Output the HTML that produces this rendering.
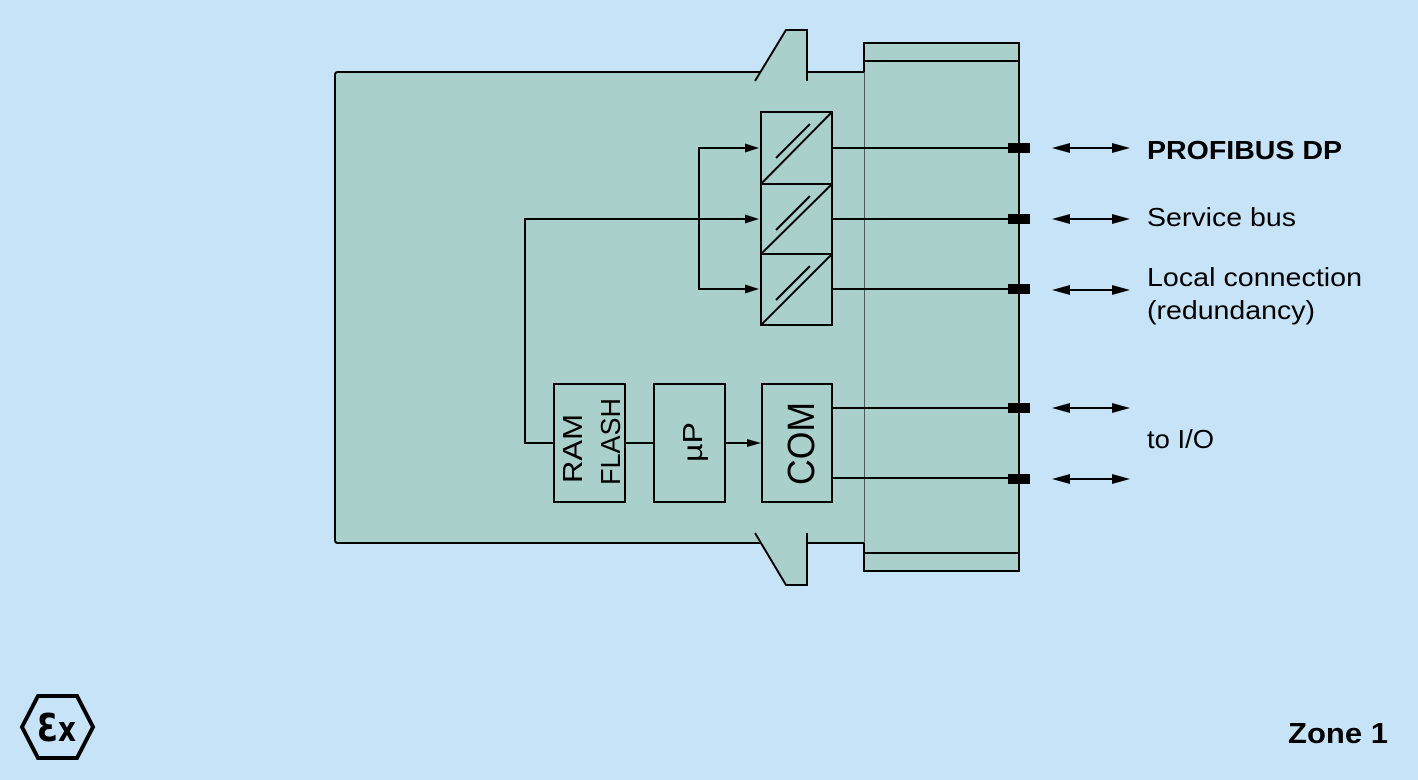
<!DOCTYPE html>
<html>
<head>
<meta charset="utf-8">
<style>
  html,body{margin:0;padding:0;}
  body{width:1418px;height:780px;background:#c6e3f7;overflow:hidden;}
  svg{display:block;}
  text{font-family:"Liberation Sans",Arial,sans-serif;fill:#000;}
</style>
</head>
<body>
<svg width="1418" height="780" viewBox="0 0 1418 780" xmlns="http://www.w3.org/2000/svg">
  <rect x="0" y="0" width="1418" height="780" fill="#c6e3f7"/>

  <!-- fills -->
  <g fill="#a9d0cb" stroke="none">
    <rect x="335" y="72" width="530" height="471" rx="3"/>
    <polygon points="760,72 786,30 807,30 807,72"/>
    <polygon points="761,543 786,585 807,585 807,543"/>
    <rect x="864" y="43" width="155" height="528"/>
  </g>

  <!-- outline -->
  <g fill="none" stroke="#000" stroke-width="2" stroke-linejoin="miter">
    <path d="M760,72 L338,72 Q335,72 335,75 L335,540 Q335,543 338,543 L761,543"/>
    <path d="M807,72 L864,72"/>
    <path d="M807,543 L864,543"/>
    <path d="M755,81 L786,30 L807,30 L807,81"/>
    <path d="M755,533 L786,585 L807,585 L807,533"/>
    <path d="M864,72 L864,43 L1019,43 L1019,571 L864,571 L864,543"/>
    <line x1="864" y1="61" x2="1019" y2="61"/>
    <line x1="864" y1="553" x2="1019" y2="553"/>
  </g>
  <line x1="864.5" y1="72" x2="864.5" y2="543" stroke="#4a5a58" stroke-width="1"/>

  <!-- converter boxes -->
  <g fill="none" stroke="#000" stroke-width="2">
    <rect x="761" y="112" width="71" height="213"/>
    <line x1="761" y1="184" x2="832" y2="184"/>
    <line x1="761" y1="254" x2="832" y2="254"/>
    <line x1="761" y1="184" x2="832" y2="112"/>
    <line x1="761" y1="254" x2="832" y2="184"/>
    <line x1="761" y1="325" x2="832" y2="254"/>
    <line x1="776" y1="158" x2="810" y2="124"/>
    <line x1="776" y1="230" x2="810" y2="196"/>
    <line x1="776" y1="300" x2="810" y2="266"/>
  </g>

  <!-- lower boxes -->
  <g fill="none" stroke="#000" stroke-width="2">
    <rect x="554" y="384" width="71" height="118"/>
    <rect x="654" y="384" width="71" height="118"/>
    <rect x="762" y="384" width="70" height="118"/>
  </g>

  <!-- internal connections -->
  <g fill="none" stroke="#000" stroke-width="2">
    <line x1="832" y1="148" x2="1019" y2="148"/>
    <line x1="832" y1="219" x2="1019" y2="219"/>
    <line x1="832" y1="289" x2="1019" y2="289"/>
    <line x1="832" y1="408" x2="1019" y2="408"/>
    <line x1="832" y1="478" x2="1019" y2="478"/>
    <path d="M748,148 L699,148 L699,289 L748,289"/>
    <path d="M748,219 L525,219 L525,443 L554,443"/>
    <line x1="625" y1="443" x2="654" y2="443"/>
    <line x1="725" y1="443" x2="750" y2="443"/>
  </g>
  <g fill="#000">
    <polygon points="759,148 745,143.5 745,152.5"/>
    <polygon points="759,219 745,214.5 745,223.5"/>
    <polygon points="759,289 745,284.5 745,293.5"/>
    <polygon points="761,443 747,439 747,447"/>
    <!-- port blocks -->
    <rect x="1008" y="143" width="22" height="10"/>
    <rect x="1008" y="214" width="22" height="10"/>
    <rect x="1008" y="284" width="22" height="10"/>
    <rect x="1008" y="403" width="22" height="10"/>
    <rect x="1008" y="474" width="22" height="10"/>
  </g>

  <!-- external double arrows -->
  <g stroke="#000" stroke-width="2">
    <line x1="1060" y1="148" x2="1122" y2="148"/>
    <line x1="1060" y1="219" x2="1122" y2="219"/>
    <line x1="1060" y1="290" x2="1122" y2="290"/>
    <line x1="1060" y1="408" x2="1122" y2="408"/>
    <line x1="1060" y1="479" x2="1122" y2="479"/>
  </g>
  <g fill="#000">
    <polygon points="1052,148 1070,143 1070,153"/><polygon points="1130,148 1112,143 1112,153"/>
    <polygon points="1052,219 1070,214 1070,224"/><polygon points="1130,219 1112,214 1112,224"/>
    <polygon points="1052,290 1070,285 1070,295"/><polygon points="1130,290 1112,285 1112,295"/>
    <polygon points="1052,408 1070,403 1070,413"/><polygon points="1130,408 1112,403 1112,413"/>
    <polygon points="1052,479 1070,474 1070,484"/><polygon points="1130,479 1112,474 1112,484"/>
  </g>

  <!-- rotated labels -->
  <text transform="translate(582,483) rotate(-90)" font-size="28" textLength="69" lengthAdjust="spacingAndGlyphs">RAM</text>
  <text transform="translate(620,485) rotate(-90)" font-size="28" textLength="87" lengthAdjust="spacingAndGlyphs">FLASH</text>
  <text transform="translate(702,462) rotate(-90)" font-size="28" textLength="40" lengthAdjust="spacingAndGlyphs">µP</text>
  <text transform="translate(814,485) rotate(-90)" font-size="38" textLength="83" lengthAdjust="spacingAndGlyphs">COM</text>

  <!-- right labels -->
  <text x="1147" y="159" font-size="26" font-weight="bold" textLength="195" lengthAdjust="spacingAndGlyphs">PROFIBUS DP</text>
  <text x="1147" y="226" font-size="26" textLength="149" lengthAdjust="spacingAndGlyphs">Service bus</text>
  <text x="1147" y="286" font-size="26" textLength="215" lengthAdjust="spacingAndGlyphs">Local connection</text>
  <text x="1147" y="319" font-size="26" textLength="168" lengthAdjust="spacingAndGlyphs">(redundancy)</text>
  <text x="1147" y="448" font-size="26" textLength="67" lengthAdjust="spacingAndGlyphs">to I/O</text>

  <!-- Zone 1 -->
  <text x="1288" y="743" font-size="29" font-weight="bold" textLength="100" lengthAdjust="spacingAndGlyphs">Zone 1</text>

  <!-- Ex logo -->
  <polygon points="22,727 38,696 77,696 93,727 77,758 38,758" fill="none" stroke="#000" stroke-width="4" stroke-linejoin="miter"/>
  <text x="37" y="741" font-size="38" font-weight="bold" textLength="21" lengthAdjust="spacingAndGlyphs" style="font-family:'DejaVu Sans',sans-serif">Ɛ</text>
  <text x="58" y="741" font-size="35" font-weight="bold" textLength="18" lengthAdjust="spacingAndGlyphs" style="font-family:'DejaVu Sans',sans-serif">x</text>
</svg>
</body>
</html>
